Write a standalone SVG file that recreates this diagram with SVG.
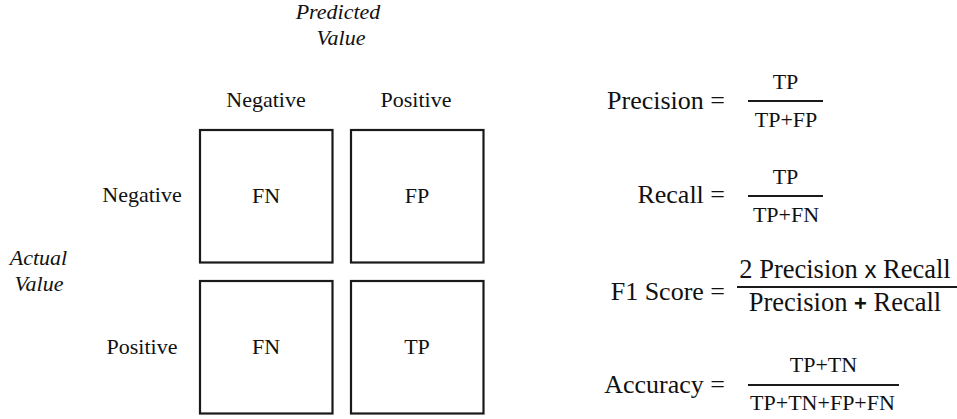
<svg xmlns="http://www.w3.org/2000/svg" width="957" height="419" viewBox="0 0 957 419">
  <style>
    text { fill: #111; font-family: "Liberation Serif", "Times New Roman", Times, serif; }
    .lbl { font-size: 22px; text-anchor: middle; }
    .axis { font-size: 22px; font-style: italic; text-anchor: middle; }
    .cell { fill: #fff; stroke: #1a1a1a; stroke-width: 2.2; }
    .name { font-size: 26px; text-anchor: end; }
    .frac { font-size: 22px; text-anchor: middle; }
    .big { font-size: 26.5px; text-anchor: middle; }
    .bar { stroke: #1a1a1a; stroke-width: 2; }
    .sym { font-family: "Liberation Sans", Arial, sans-serif; }
  </style>

  <!-- axis titles -->
  <g id="predicted-title">
    <text class="axis" x="338" y="19">Predicted</text>
    <text class="axis" x="341" y="45">Value</text>
  </g>
  <g id="actual-title">
    <text class="axis" x="38.5" y="265">Actual</text>
    <text class="axis" x="39" y="291">Value</text>
  </g>

  <!-- column and row headers -->
  <g id="col-negative"><text class="lbl" x="266" y="107">Negative</text></g>
  <g id="col-positive"><text class="lbl" x="416" y="107">Positive</text></g>
  <g id="row-negative"><text class="lbl" x="142" y="202">Negative</text></g>
  <g id="row-positive"><text class="lbl" x="142" y="354">Positive</text></g>

  <!-- confusion matrix cells -->
  <g id="cell-nn">
    <rect class="cell" x="200" y="130" width="132.5" height="132.5"/>
    <text class="lbl" x="266" y="203">FN</text>
  </g>
  <g id="cell-np">
    <rect class="cell" x="351" y="130" width="132.5" height="132.5"/>
    <text class="lbl" x="417" y="203">FP</text>
  </g>
  <g id="cell-pn">
    <rect class="cell" x="200" y="281" width="132.5" height="132.5"/>
    <text class="lbl" x="266" y="354">FN</text>
  </g>
  <g id="cell-pp">
    <rect class="cell" x="351" y="281" width="132.5" height="132.5"/>
    <text class="lbl" x="417" y="354">TP</text>
  </g>

  <!-- metric formulas -->
  <g id="precision">
    <text class="name" x="725" y="109">Precision =</text>
    <text class="frac" x="785.5" y="89">TP</text>
    <line class="bar" x1="748" y1="101" x2="823" y2="101"/>
    <text class="frac" x="786" y="127">TP+FP</text>
  </g>
  <g id="recall">
    <text class="name" x="725" y="203">Recall =</text>
    <text class="frac" x="785.5" y="184">TP</text>
    <line class="bar" x1="748" y1="196" x2="823" y2="196"/>
    <text class="frac" x="786" y="222">TP+FN</text>
  </g>
  <g id="f1-score">
    <text class="name" x="725" y="300">F1 Score =</text>
    <text class="big" x="845" y="278">2 Precision <tspan class="sym" font-size="24">x</tspan> Recall</text>
    <line class="bar" x1="737" y1="287" x2="957" y2="287"/>
    <text class="big" x="845" y="311">Precision <tspan class="sym" font-weight="bold" font-size="22">+</tspan> Recall</text>
  </g>
  <g id="accuracy">
    <text class="name" x="725" y="393">Accuracy =</text>
    <text class="frac" x="823.5" y="372">TP+TN</text>
    <line class="bar" x1="748" y1="385" x2="899" y2="385"/>
    <text class="frac" x="822.5" y="410">TP+TN+FP+FN</text>
  </g>

  <!-- no connectors in this figure -->
  <g id="connectors"/>
</svg>
